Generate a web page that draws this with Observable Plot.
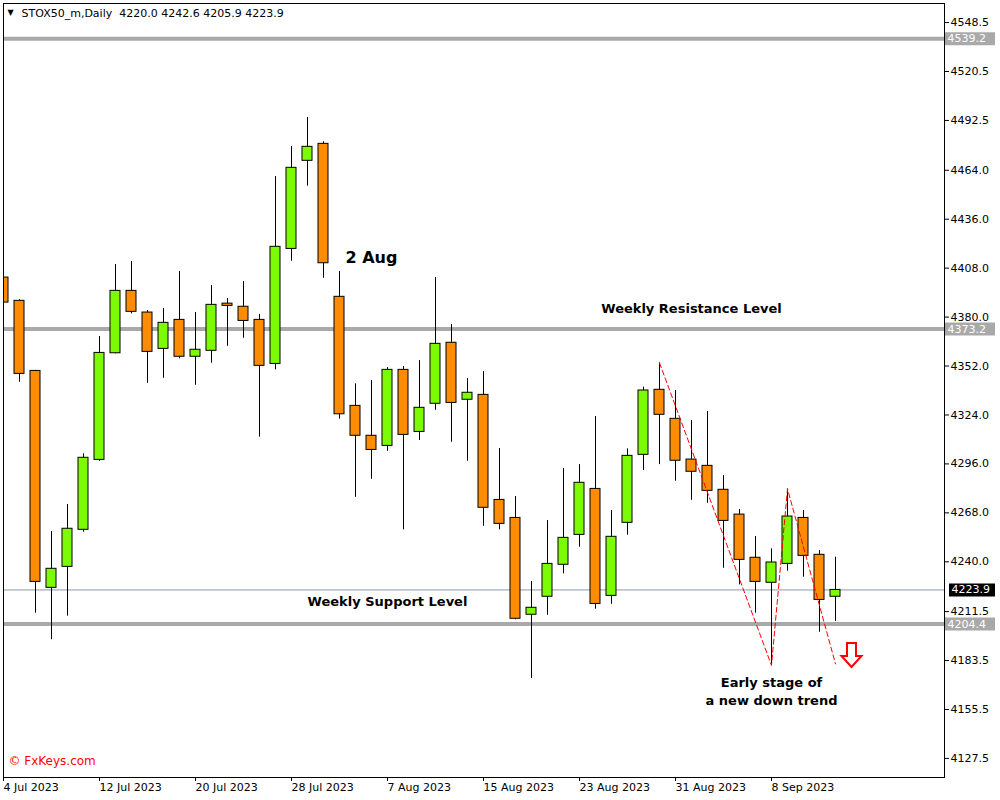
<!DOCTYPE html>
<html>
<head>
<meta charset="utf-8">
<script src="https://cdn.jsdelivr.net/npm/d3@7"></script>
<script src="https://cdn.jsdelivr.net/npm/@observablehq/plot@0.6"></script>
<style>
  html, body { margin: 0; padding: 0; background: #fff; }
  #chart { width: 1000px; height: 800px; }
</style>
</head>
<body>
<div id="chart"></div>
<script>
// ---------- data ----------
const symbolName = "STOX50_m";
const timeframe = "Daily";

const dates = [
  "2023-07-04","2023-07-05","2023-07-06","2023-07-07","2023-07-10","2023-07-11","2023-07-12","2023-07-13","2023-07-14",
  "2023-07-17","2023-07-18","2023-07-19","2023-07-20","2023-07-21","2023-07-24","2023-07-25","2023-07-26","2023-07-27",
  "2023-07-28","2023-07-31","2023-08-01","2023-08-02","2023-08-03","2023-08-04","2023-08-07","2023-08-08","2023-08-09",
  "2023-08-10","2023-08-11","2023-08-14","2023-08-15","2023-08-16","2023-08-17","2023-08-18","2023-08-21","2023-08-22",
  "2023-08-23","2023-08-24","2023-08-25","2023-08-28","2023-08-29","2023-08-30","2023-08-31","2023-09-01","2023-09-04",
  "2023-09-05","2023-09-06","2023-09-07","2023-09-08","2023-09-11","2023-09-12","2023-09-13","2023-09-14"
];
const opens = [
  4402.6, 4389.3, 4349.2, 4225.1, 4237.1, 4258.3, 4298.3, 4359.3, 4395.0, 4382.6,
  4361.8, 4378.4, 4357.3, 4360.7, 4387.7, 4385.9, 4378.4, 4353.2, 4419.0, 4469.4,
  4479.1, 4391.6, 4329.2, 4312.1, 4306.3, 4349.8, 4314.3, 4330.4, 4365.3, 4332.7,
  4335.5, 4275.4, 4265.1, 4209.7, 4220.0, 4238.3, 4255.4, 4281.7, 4220.5, 4262.3,
  4301.2, 4338.4, 4321.8, 4298.5, 4294.9, 4281.2, 4267.0, 4242.3, 4228.0, 4238.8,
  4265.1, 4244.0, 4220.0
];
const highs = [
  4414.2, 4389.9, 4349.5, 4257.3, 4272.8, 4301.8, 4368.9, 4410.1, 4411.8, 4383.7,
  4384.9, 4406.1, 4382.6, 4398.0, 4390.6, 4400.3, 4381.5, 4460.4, 4477.6, 4494.2,
  4480.3, 4406.1, 4341.8, 4343.7, 4351.1, 4351.7, 4355.1, 4402.6, 4375.7, 4344.8,
  4348.8, 4304.8, 4277.3, 4228.7, 4263.6, 4293.4, 4295.6, 4323.1, 4269.3, 4304.6,
  4339.9, 4353.8, 4338.0, 4320.8, 4326.0, 4289.3, 4269.9, 4254.5, 4247.4, 4281.7,
  4269.3, 4246.4, 4242.6
];
const lows = [
  4387.7, 4342.7, 4210.6, 4195.4, 4208.9, 4256.9, 4297.5, 4359.0, 4381.8, 4342.1,
  4345.0, 4356.1, 4341.0, 4353.6, 4363.3, 4367.9, 4311.3, 4349.8, 4411.9, 4454.9,
  4402.2, 4321.6, 4276.9, 4287.2, 4303.2, 4258.3, 4309.4, 4326.7, 4308.4, 4297.5,
  4260.3, 4258.3, 4206.8, 4173.2, 4209.4, 4233.1, 4248.3, 4212.9, 4215.7, 4255.2,
  4292.2, 4295.6, 4286.1, 4275.2, 4273.5, 4236.3, 4226.8, 4210.6, 4180.7, 4234.6,
  4231.2, 4199.7, 4205.9
];
const closes = [
  4388.3, 4347.5, 4228.5, 4236.0, 4258.9, 4299.5, 4359.5, 4395.0, 4383.0, 4360.1,
  4376.7, 4357.3, 4361.3, 4387.0, 4386.4, 4377.8, 4352.1, 4420.2, 4465.4, 4477.4,
  4410.8, 4324.4, 4312.1, 4304.0, 4349.8, 4312.6, 4328.1, 4364.7, 4330.9, 4336.7,
  4270.9, 4261.7, 4207.4, 4213.7, 4238.8, 4253.7, 4285.2, 4215.9, 4254.3, 4300.6,
  4338.0, 4324.1, 4297.8, 4291.5, 4280.6, 4263.4, 4241.1, 4228.5, 4239.6, 4265.9,
  4243.4, 4218.2, 4223.9
];

// horizontal levels
const levelPrices = [4539.2, 4373.2, 4204.4];
// right axis ticks
const yTicks = [4548.5, 4520.5, 4492.5, 4464.0, 4436.0, 4408.0, 4380.0, 4352.0, 4324.0,
                4296.0, 4268.0, 4240.0, 4211.5, 4183.5, 4155.5, 4127.5];
// bottom axis tick dates
const xTickDates = ["2023-07-04","2023-07-12","2023-07-20","2023-07-28","2023-08-07",
                    "2023-08-15","2023-08-23","2023-08-31","2023-09-08"];
// visible price range of the chart window
const priceRange = [4116.6, 4559.4];
// visible bar-slot range (last candle + empty right shift)
const barRange = [0, 58.8125];

// hand-drawn trend line (date, price)
const trendDates = ["2023-08-30","2023-09-08","2023-09-11","2023-09-14"];
const trendPrices = [4353.8, 4180.7, 4281.7, 4181.6];

// annotations (text, date, price)
const bigNoteText = ["2 Aug"];
const bigNoteDate = ["2023-08-04"];
const bigNotePrice = [4414.1];
const noteTexts = ["Weekly Resistance Level", "Weekly Support Level", "Early stage of", "a new down trend"];
const noteDates = ["2023-09-01", "2023-08-07", "2023-09-08", "2023-09-08"];
const notePrices = [4384.9, 4217.3, 4170.9, 4160.6];
// arrow marker (bar slot after last candle)
const arrowSlot = [53];
const arrowPrice = [4186.7];

// ---------- build tables ----------
const idx = d => dates.indexOf(d);
const rows = dates.map((d, i) => ({i, date: d, open: opens[i], high: highs[i], low: lows[i], close: closes[i]}));
const last = rows[rows.length - 1];
const trend = trendDates.map((d, k) => ({i: idx(d), price: trendPrices[k]}));
const bigNotes = bigNoteText.map((t, k) => ({t, i: idx(bigNoteDate[k]), price: bigNotePrice[k]}));
const notes = noteTexts.map((t, k) => ({t, i: idx(noteDates[k]), price: notePrices[k]}));
const arrows = arrowSlot.map((s, k) => ({i: s, price: arrowPrice[k]}));

const fmtDate = d3.utcFormat("%-d %b %Y");
const upColor = "#7CFC00", downColor = "#FF8C00", levelColor = "#a9a9a9";
const xEnd = barRange[1];
const half = 5 / 16;

const arrowSymbol = {
  draw(ctx) {
    ctx.moveTo(-4.5, -12); ctx.lineTo(4.5, -12); ctx.lineTo(4.5, 1);
    ctx.lineTo(10, 1); ctx.lineTo(0, 12); ctx.lineTo(-10, 1);
    ctx.lineTo(-4.5, 1); ctx.closePath();
  }
};

const title = `${symbolName},${timeframe}\u00a0 ${last.open.toFixed(1)} ${last.high.toFixed(1)} ${last.low.toFixed(1)} ${last.close.toFixed(1)}`;

const chart = Plot.plot({
  width: 1000,
  height: 800,
  marginLeft: 3,
  marginRight: 56,
  marginTop: 3,
  marginBottom: 23,
  style: {fontFamily: "DejaVu Sans", fontSize: "11px", background: "#fff", color: "black", overflow: "visible"},
  x: {type: "linear", domain: barRange, axis: null},
  y: {type: "linear", domain: priceRange, axis: null},
  marks: [
    // support / resistance levels
    Plot.ruleY(levelPrices, {y: d => d, stroke: levelColor, strokeWidth: 4}),
    // current price line
    Plot.ruleY([last.close], {y: d => d, stroke: "#8a9aa8", strokeWidth: 1}),
    // wicks
    Plot.ruleX(rows, {x: "i", y1: "low", y2: "high", stroke: "black", strokeWidth: 1, clip: true}),
    // bodies
    Plot.rect(rows, {
      x1: d => d.i - half, x2: d => d.i + half,
      y1: "open", y2: "close",
      fill: d => d.close >= d.open ? upColor : downColor,
      stroke: "black", strokeWidth: 1, clip: true
    }),
    // trend line
    Plot.line(trend, {x: "i", y: "price", stroke: "red", strokeWidth: 1, strokeDasharray: "5,3"}),
    // arrow
    Plot.dot(arrows, {x: "i", y: "price", symbol: arrowSymbol, fill: "#fff", stroke: "red", strokeWidth: 2}),
    // annotations
    Plot.text(bigNotes, {x: "i", y: "price", text: "t", fontSize: 16, fontWeight: "bold", fill: "black", textAnchor: "middle"}),
    Plot.text(notes, {x: "i", y: "price", text: "t", fontSize: 13, fontWeight: "bold", fill: "black", textAnchor: "middle"}),
    // title & copyright
    Plot.text(["\u25BC"], {frameAnchor: "top-left", dx: 7, dy: 9, fontSize: 8, textAnchor: "middle", lineAnchor: "middle", fill: "black"}),
    Plot.text([title], {frameAnchor: "top-left", dx: 18, dy: 10, fontSize: 11, textAnchor: "start", lineAnchor: "middle", fill: "black"}),
    Plot.text(["\u00a9 FxKeys.com"], {frameAnchor: "bottom-left", dx: 5, dy: -16, fontSize: 12, textAnchor: "start", lineAnchor: "middle", fill: "red"}),
    // frame
    Plot.frame({stroke: "black"}),
    // axes
    Plot.axisY(yTicks, {anchor: "right", tickSize: 4, tickPadding: 2, tickFormat: d => d.toFixed(1), label: null, fontSize: 11, fill: "black"}),
    Plot.axisX(xTickDates.map(idx), {anchor: "bottom", tickSize: 4, tickPadding: 2, tickFormat: i => fmtDate(new Date(dates[i])), textAnchor: "start", label: null, fontSize: 11, fill: "black"}),
    // price boxes
    Plot.ruleY(levelPrices, {y: d => d, x1: xEnd + 1 / 16, x2: xEnd + 51 / 16, stroke: levelColor, strokeWidth: 13}),
    Plot.text(levelPrices, {x: xEnd, y: d => d, text: d => d.toFixed(1), dx: 3, textAnchor: "start", fill: "white", fontSize: 11}),
    Plot.ruleY([last.close], {y: d => d, x1: xEnd + 5 / 16, x2: xEnd + 51 / 16, stroke: "black", strokeWidth: 13}),
    Plot.text([last.close], {x: xEnd, y: d => d, text: d => d.toFixed(1), dx: 7, textAnchor: "start", fill: "white", fontSize: 11})
  ]
});
document.getElementById("chart").appendChild(chart);
</script>
</body>
</html>
